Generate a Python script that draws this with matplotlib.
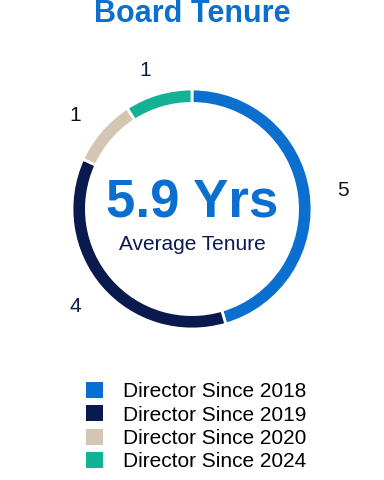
import matplotlib.pyplot as plt
from matplotlib.patches import Patch

plt.rcParams['font.family'] = ['Liberation Sans', 'DejaVu Sans']

# data
categories = ['Director Since 2018', 'Director Since 2019',
              'Director Since 2020', 'Director Since 2024']
counts = [5, 4, 1, 1]
colors = ['#0b6fd0', '#0b1a4e', '#d5c6b3', '#13b196']
avg_tenure = '5.9 Yrs'

BLUE = '#0b6fd0'
NAVY = '#0b1a4e'
label_colors = ['#111111', NAVY, '#111111', NAVY]

fig = plt.figure(figsize=(3.84, 4.8), dpi=100)

# donut, centred at (192, 209) px, radius 120 px
ax = fig.add_axes([36 / 384, 115 / 480, 312 / 384, 312 / 480])
wedges, texts = ax.pie(counts, colors=colors, startangle=90, counterclock=False,
                       labels=[str(c) for c in counts], labeldistance=1.22,
                       wedgeprops=dict(width=0.12, edgecolor='white', linewidth=2),
                       textprops=dict(fontsize=15))
for t, c in zip(texts, label_colors):
    t.set_color(c)
    t.set_va('center_baseline')
ax.set_xlim(-1.3, 1.3)
ax.set_ylim(-1.3, 1.3)
ax.set_aspect('equal')

ax.text(0, -0.07, avg_tenure, ha='center', va='baseline', fontsize=38,
        fontweight='bold', color=BLUE)
ax.text(0, -0.34, 'Average Tenure', ha='center', va='baseline', fontsize=15,
        color=NAVY)

fig.text(0.5, 1 - 22 / 480, 'Board Tenure', ha='center', va='baseline',
         fontsize=22, fontweight='bold', color=BLUE)

handles = [Patch(facecolor=c, edgecolor='none') for c in colors]
fig.legend(handles, categories, loc='upper left',
           bbox_to_anchor=(86 / 384, 1 - 382 / 480), frameon=False,
           fontsize=15, handlelength=0.82, handleheight=0.82, handletextpad=0.95,
           labelspacing=0.19, borderpad=0, borderaxespad=0)

fig.savefig('out.png', dpi=100)
